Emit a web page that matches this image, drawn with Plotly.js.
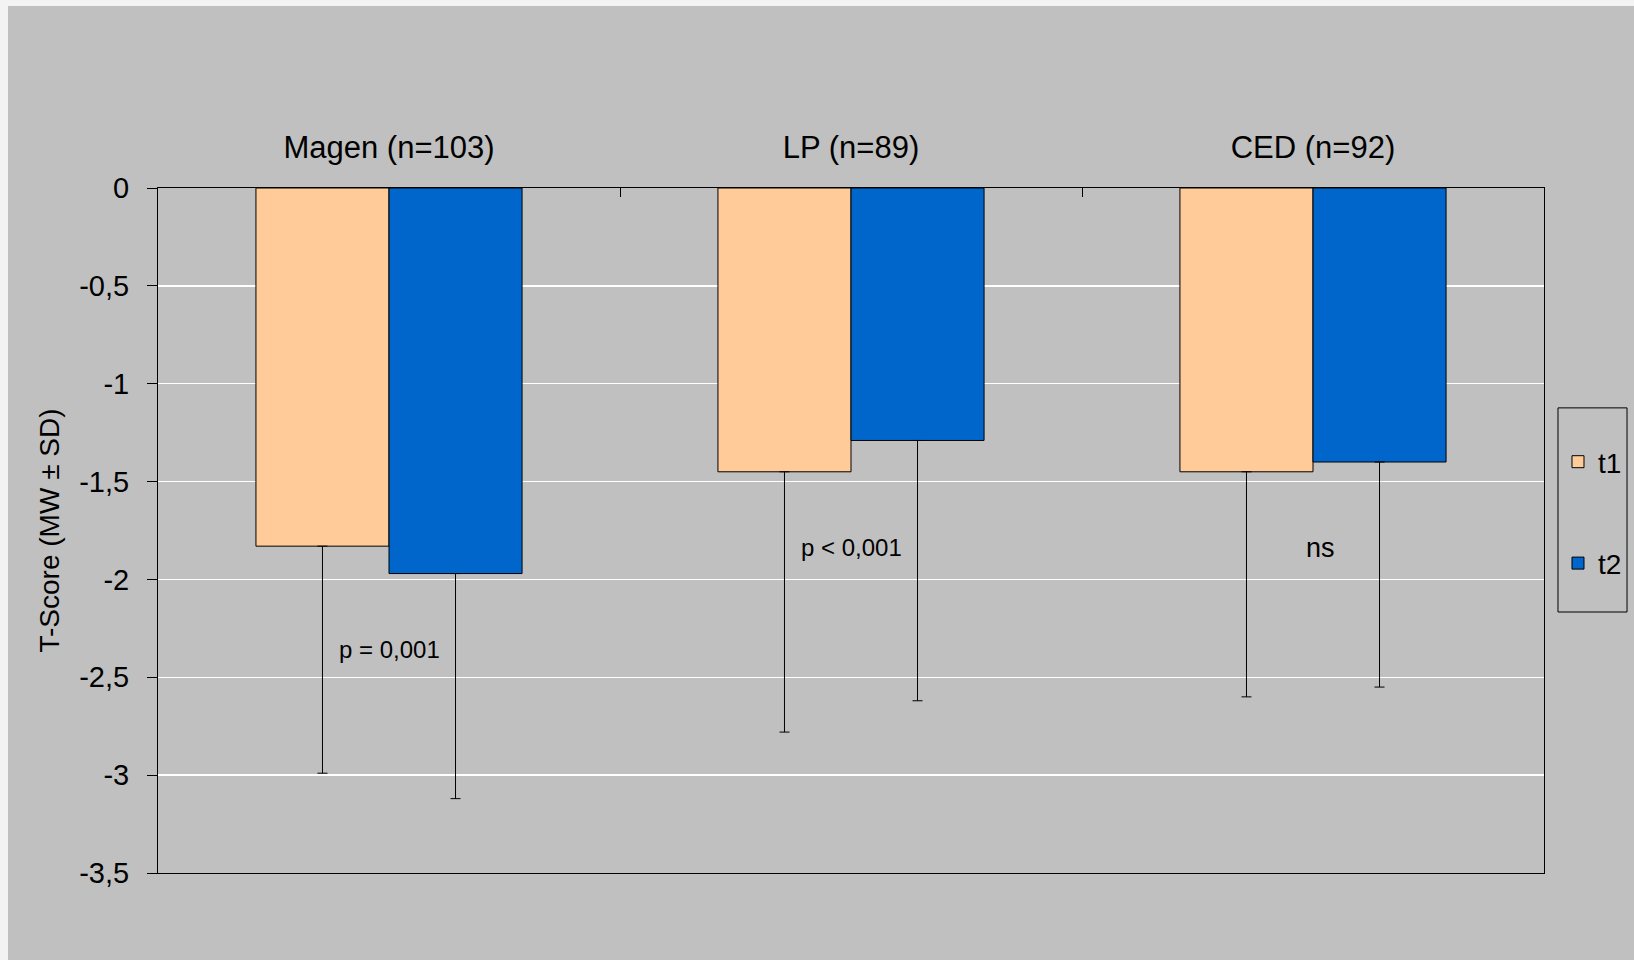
<!DOCTYPE html>
<html>
<head>
<meta charset="utf-8">
<script src="https://cdn.plot.ly/plotly-3.0.1.min.js"></script>
<style>
  html, body { margin: 0; padding: 0; background: #f3f3f3; width: 1634px; height: 960px; overflow: hidden; }
  #chart { position: absolute; left: 8px; top: 6px; width: 1626px; height: 954px; }
</style>
</head>
<body>
<div id="chart"></div>
<script>
// Data
const categories = ['Magen (n=103)', 'LP (n=89)', 'CED (n=92)'];
const seriesNames = ['t1', 't2'];
const t1Mean = [-1.83, -1.45, -1.45];
const t1SD   = [1.16, 1.33, 1.15];
const t2Mean = [-1.97, -1.29, -1.40];
const t2SD   = [1.15, 1.33, 1.15];
const tickValues = [0, -0.5, -1, -1.5, -2, -2.5, -3, -3.5];
const tickLabels = ['0', '-0,5', '-1', '-1,5', '-2', '-2,5', '-3', '-3,5'];
const pLabels = ['p = 0,001', 'p < 0,001', 'ns'];

const FONT = 'Liberation Sans, Arial, sans-serif';

const traces = [
  {
    type: 'bar', name: seriesNames[0], x: categories, y: t1Mean,
    legendgroup: 'g1',
    marker: { color: '#ffcc99', line: { color: '#000000', width: 1 } },
    error_y: { type: 'data', symmetric: false, array: [0, 0, 0], arrayminus: t1SD,
               color: '#000000', thickness: 1, width: 5 }
  },
  {
    type: 'bar', name: seriesNames[1], x: categories, y: t2Mean,
    legendgroup: 'g2',
    marker: { color: '#0066cc', line: { color: '#000000', width: 1 } },
    error_y: { type: 'data', symmetric: false, array: [0, 0, 0], arrayminus: t2SD,
               color: '#000000', thickness: 1, width: 5 }
  }
];

const layout = {
  width: 1626, height: 954,
  paper_bgcolor: '#c0c0c0', plot_bgcolor: '#c0c0c0',
  margin: { l: 150, r: 90, t: 182, b: 87, autoexpand: false },
  font: { family: FONT, color: '#000000', size: 28 },
  barmode: 'group', bargap: 0.424, bargroupgap: 0,
  showlegend: true,
  legend: {
    x: 1.0101, xanchor: 'left', y: 0.6365, yanchor: 'top',
    bgcolor: 'rgba(0,0,0,0)', borderwidth: 0,
    font: { family: FONT, size: 28, color: '#000000' },
    tracegroupgap: 62, traceorder: 'grouped'
  },
  shapes: [
    { type: 'rect', xref: 'paper', yref: 'paper', x0: 1.0101, x1: 1.0599, y0: 0.381, y1: 0.679,
      line: { color: '#000000', width: 1 }, fillcolor: 'rgba(0,0,0,0)', layer: 'above' }
  ],
  xaxis: {
    type: 'category', side: 'top', showgrid: false,
    showline: true, mirror: true, linecolor: '#000000', linewidth: 1,
    ticks: 'inside', tickson: 'boundaries', ticklen: 9, tickcolor: '#000000', tickwidth: 1,
    tickfont: { family: FONT, size: 31, color: '#000000' },
    ticklabelstandoff: 17,
    fixedrange: true
  },
  yaxis: {
    range: [-3.5, 0], autorange: false,
    tickmode: 'array', tickvals: tickValues, ticktext: tickLabels,
    showgrid: true, gridcolor: '#ffffff', gridwidth: 1.5, zeroline: false,
    showline: true, mirror: true, linecolor: '#000000', linewidth: 1,
    ticks: 'outside', ticklen: 10, tickcolor: '#000000', tickwidth: 1,
    tickfont: { family: FONT, size: 29, color: '#000000' },
    ticklabelstandoff: 12,
    title: { text: 'T-Score (MW ± SD)', font: { family: FONT, size: 28, color: '#000000' }, standoff: 11 },
    fixedrange: true
  },
  annotations: [
    { x: categories[0], y: -2.36, xref: 'x', yref: 'y', text: pLabels[0], showarrow: false,
      font: { family: FONT, size: 24, color: '#000000' } },
    { x: categories[1], y: -1.835, xref: 'x', yref: 'y', text: pLabels[1], showarrow: false,
      font: { family: FONT, size: 24, color: '#000000' } },
    { x: categories[2], y: -1.84, xref: 'x', yref: 'y', text: pLabels[2], showarrow: false, xshift: 7,
      font: { family: FONT, size: 27, color: '#000000' } }
  ]
};

Plotly.newPlot('chart', traces, layout, { displayModeBar: false, staticPlot: true });
</script>
</body>
</html>
